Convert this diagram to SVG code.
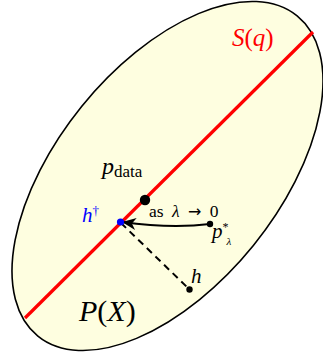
<svg xmlns="http://www.w3.org/2000/svg" width="323" height="352" viewBox="0 0 323 352">
  <style>
    .lbl { font-family: "Liberation Serif", "DejaVu Serif", serif; }
    .it { font-style: italic; }
    .dot { fill: #000; }
  </style>
  <defs>
    <marker id="arrowhead" markerUnits="userSpaceOnUse" markerWidth="16" markerHeight="12" refX="14" refY="6" orient="auto">
      <path d="M0,0 L14,6 L0,12 L4,6 Z" fill="#000"/>
    </marker>
  </defs>

  <g id="space-P">
    <ellipse cx="167.5" cy="176" rx="206" ry="110.5" transform="rotate(-51 167.5 176)" fill="#fefee0" stroke="#000" stroke-width="1.6"/>
    <text class="lbl" x="79" y="321" font-size="30" fill="#000"><tspan class="it">P</tspan>(<tspan class="it">X</tspan>)</text>
  </g>

  <g id="subspace-S">
    <line x1="25" y1="318" x2="313" y2="32" stroke="#ff0000" stroke-width="3.2"/>
    <text class="lbl" x="232" y="46" font-size="25" fill="#ff0000"><tspan class="it">S</tspan>(<tspan class="it">q</tspan>)</text>
  </g>

  <g id="connectors">
    <path d="M210,224 Q172,229 122,222" fill="none" stroke="#000" stroke-width="2" marker-end="url(#arrowhead)"/>
    <line x1="121" y1="223" x2="189" y2="289" stroke="#000" stroke-width="2" stroke-dasharray="7,5"/>
    <text class="lbl" x="149" y="217" font-size="17.5" fill="#000" word-spacing="4">as <tspan class="it">λ</tspan> <tspan font-family="DejaVu Sans, sans-serif" font-size="16">→</tspan> 0</text>
  </g>

  <g id="node-pdata">
    <circle cx="145" cy="200" r="5.2" class="dot"/>
    <text class="lbl" x="102" y="174" font-size="24" fill="#000"><tspan class="it">p</tspan><tspan font-size="17" dy="3">data</tspan></text>
  </g>

  <g id="node-hdagger">
    <circle cx="120.5" cy="222" r="3.6" fill="#0000ff"/>
    <text class="lbl" x="82" y="222" font-size="21" fill="#0000ff"><tspan class="it">h</tspan><tspan font-size="13" dy="-7">†</tspan></text>
  </g>

  <g id="node-pstar">
    <circle cx="210" cy="224" r="3.2" class="dot"/>
    <text class="lbl" x="212" y="238" font-size="21" fill="#000"><tspan class="it">p</tspan><tspan font-size="12" dy="-7">*</tspan><tspan class="it" font-size="11" x="226.5" dy="14">λ</tspan></text>
  </g>

  <g id="node-h">
    <circle cx="189.5" cy="289.5" r="3.2" class="dot"/>
    <text class="lbl it" x="191" y="283" font-size="21" fill="#000">h</text>
  </g>
</svg>
